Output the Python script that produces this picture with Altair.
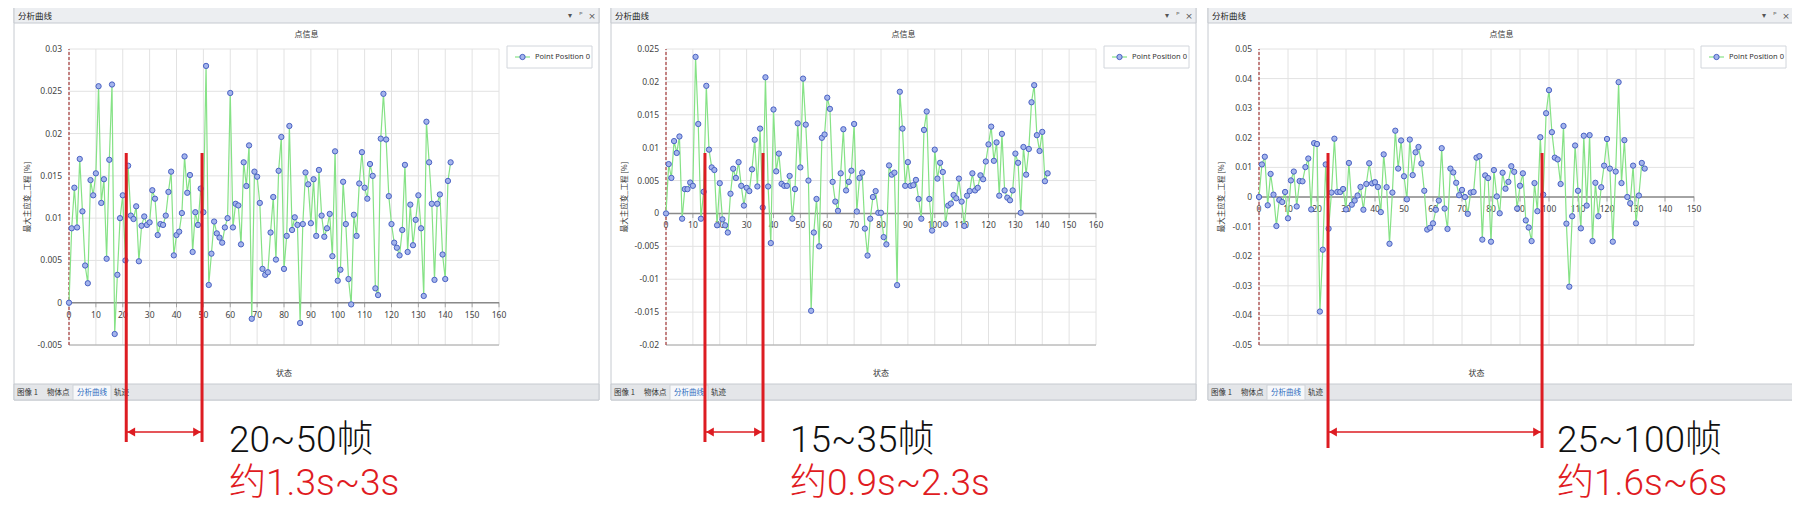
import altair as alt
import pandas as pd

# ---------------- data ----------------
values_1 = [0, 0.0088, 0.0136, 0.0089, 0.0170, 0.0108, 0.0044, 0.0023, 0.0145, 0.0127,
            0.0153, 0.0256, 0.0118, 0.0146, 0.0052, 0.0169, 0.0258, -0.0037, 0.0033, 0.0100,
            0.0127, 0.0050, 0.0162, 0.0103, 0.0099, 0.0114, 0.0049, 0.0091, 0.0102, 0.0092,
            0.0095, 0.0133, 0.0123, 0.0080, 0.0093, 0.0092, 0.0103, 0.0131, 0.0155, 0.0056,
            0.0080, 0.0084, 0.0106, 0.0173, 0.0130, 0.0151, 0.0060, 0.0107, 0.0092, 0.0135,
            0.0107, 0.0280, 0.0021, 0.0058, 0.0096, 0.0082, 0.0077, 0.0071, 0.0089, 0.0100,
            0.0248, 0.0089, 0.0117, 0.0115, 0.0069, 0.0166, 0.0138, 0.0186, -0.0019, 0.0155,
            0.0149, 0.0118, 0.0040, 0.0033, 0.0036, 0.0083, 0.0125, 0.0051, 0.0156, 0.0196,
            0.0040, 0.0079, 0.0209, 0.0086, 0.0101, 0.0092, -0.0024, 0.0093, 0.0154, 0.0140,
            0.0094, 0.0146, 0.0079, 0.0157, 0.0103, 0.0078, 0.0088, 0.0105, 0.0055, 0.0179,
            0.0026, 0.0039, 0.0143, 0.0093, 0.0028, -0.0002, 0.0104, 0.0079, 0.0141, 0.0178,
            0.0136, 0.0123, 0.0164, 0.0150, 0.0017, 0.0009, 0.0194, 0.0247, 0.0193, 0.0126,
            0.0093, 0.0071, 0.0065, 0.0056, 0.0086, 0.0163, 0.0060, 0.0116, 0.0068, 0.0098,
            0.0127, 0.0088, 0.0008, 0.0214, 0.0166, 0.0117, 0.0027, 0.0117, 0.0128, 0.0057,
            0.0028, 0.0144, 0.0166]

values_2 = [0, 0.0075, 0.0054, 0.0110, 0.0092, 0.0117, -0.0008, 0.0037, 0.0037, 0.0047,
            0.0042, 0.0238, 0.0136, -0.0008, 0.0033, 0.0194, 0.0097, 0.0070, 0.0066, -0.0018,
            0.0046, -0.0009, -0.0018, -0.0029, 0.0030, 0.0068, 0.0054, 0.0078, 0.0042, 0.0012,
            0.0039, 0.0034, 0.0067, 0.0112, 0.0041, 0.0129, 0.0009, 0.0207, 0.0041, -0.0045,
            0.0158, 0.0064, 0.0091, 0.0045, 0.0042, 0.0042, 0.0057, -0.0008, 0.0037, 0.0137,
            0.0070, 0.0205, 0.0135, 0.0050, -0.0148, -0.0029, 0.0022, -0.0050, 0.0115, 0.0120,
            0.0176, 0.0159, 0.0048, 0.0018, 0.0004, 0.0061, 0.0128, 0.0035, 0.0048, 0.0065,
            0.0136, 0.0003, 0.0054, 0.0062, -0.0023, -0.0064, -0.0008, 0.0025, 0.0034, 0.0001,
            0.0001, -0.0036, -0.0047, 0.0073, 0.0059, 0.0062, -0.0109, 0.0185, 0.0129, 0.0042,
            0.0078, 0.0042, 0.0043, 0.0051, 0.0022, -0.0008, 0.0127, 0.0155, 0.0022, -0.0026,
            0.0097, 0.0053, 0.0077, 0.0063, -0.0016, 0.0012, 0.0015, 0.0028, 0.0023, 0.0053,
            0.0018, -0.0019, 0.0027, 0.0034, 0.0061, 0.0035, 0.0039, 0.0058, 0.0052, 0.0079,
            0.0105, 0.0132, 0.0080, 0.0108, 0.0027, 0.0121, 0.0035, 0.0024, 0.0020, 0.0035,
            0.0091, 0.0077, 0.0001, 0.0101, 0.0059, 0.0098, 0.0169, 0.0195, 0.0119, 0.0095,
            0.0124, 0.0049, 0.0061]

values_3 = [0, 0.0110, 0.0136, -0.0028, 0.0078, 0.0008, -0.0098, -0.0010, -0.0017, 0.0017,
            -0.0072, 0.0056, 0.0086, -0.0032, 0.0054, 0.0053, 0.0101, 0.0130, -0.0042, 0.0182,
            0.0179, -0.0387, -0.0178, 0.0110, -0.0107, 0.0015, 0.0197, 0.0017, 0.0017, 0.0027,
            -0.0042, 0.0115, -0.0026, -0.0012, 0.0005, 0.0034, -0.0043, 0.0044, 0.0114, 0.0046,
            0.0050, 0.0034, -0.0051, 0.0144, 0.0033, -0.0158, 0.0015, 0.0224, 0.0096, 0.0191,
            0.0070, -0.0008, 0.0194, 0.0074, 0.0151, 0.0169, 0.0113, 0.0021, -0.0110, -0.0104,
            -0.0089, -0.0043, -0.0012, 0.0165, -0.0039, -0.0108, 0.0096, 0.0083, 0.0048, 0.0006,
            0.0024, 0.0000, -0.0057, 0.0015, 0.0017, 0.0133, 0.0138, -0.0144, 0.0073, 0.0064,
            -0.0151, 0.0091, 0.0002, -0.0055, 0.0082, 0.0028, 0.0051, 0.0104, 0.0085, -0.0039,
            0.0038, 0.0080, -0.0079, -0.0103, -0.0149, 0.0047, -0.0048, 0.0202, 0.0008, 0.0283,
            0.0361, 0.0219, 0.0133, 0.0127, 0.0044, 0.0240, -0.0090, -0.0303, -0.0065, 0.0174,
            0.0021, -0.0106, 0.0207, -0.0029, 0.0209, -0.0149, 0.0048, -0.0065, 0.0033, 0.0106,
            0.0196, 0.0096, -0.0151, 0.0086, 0.0388, 0.0047, 0.0192, 0.0000, -0.0021, 0.0106,
            -0.0089, 0.0005, 0.0115, 0.0096]

x_ticks_1 = [0, 10, 20, 30, 40, 50, 60, 70, 80, 90, 100, 110, 120, 130, 140, 150, 160]
x_ticks_2 = [0, 10, 20, 30, 40, 50, 60, 70, 80, 90, 100, 110, 120, 130, 140, 150, 160]
x_ticks_3 = [0, 10, 20, 30, 40, 50, 60, 70, 80, 90, 100, 110, 120, 130, 140, 150]

y_ticks_1 = [-0.005, 0, 0.005, 0.01, 0.015, 0.02, 0.025, 0.03]
y_labels_1 = ["-0.005", "0", "0.005", "0.01", "0.015", "0.02", "0.025", "0.03"]
y_ticks_2 = [-0.02, -0.015, -0.01, -0.005, 0, 0.005, 0.01, 0.015, 0.02, 0.025]
y_labels_2 = ["-0.02", "-0.015", "-0.01", "-0.005", "0", "0.005", "0.01", "0.015", "0.02", "0.025"]
y_ticks_3 = [-0.05, -0.04, -0.03, -0.02, -0.01, 0, 0.01, 0.02, 0.03, 0.04, 0.05]
y_labels_3 = ["-0.05", "-0.04", "-0.03", "-0.02", "-0.01", "0", "0.01", "0.02", "0.03", "0.04", "0.05"]

marker_frames_1 = [21.3, 49.5]
marker_frames_2 = [14.5, 36.1]
marker_frames_3 = [23.8, 97.6]

frame_text = ["20~50帧", "15~35帧", "25~100帧"]
time_text = ["约1.3s~3s", "约0.9s~2.3s", "约1.6s~6s"]

window_title = "分析曲线"
chart_title = "点信息"
x_title = "状态"
y_title = "最大主应变_工程 [%]"
series_name = "Point Position 0"
tab_names = ["图像 1", "物体点", "分析曲线", "轨迹"]

# ---------------- layout ----------------
CJK = "Noto Sans CJK SC"
LAT = "Noto Sans"
BIG = "Roboto, Noto Sans CJK SC"
OFF = 8
W, H = 1784, 495
PLOT_T, PLOT_B = 49, 345
RED = "#dd1c22"

layout = [
    dict(WL=14, WW=585, L=69, R=499, xmax=160, ymin=-0.005, ymax=0.03, tx=229, mb=442),
    dict(WL=611, WW=585, L=666, R=1096, xmax=160, ymin=-0.02, ymax=0.025, tx=790, mb=442),
    dict(WL=1208, WW=587, L=1259, R=1694, xmax=150, ymin=-0.05, ymax=0.05, tx=1557, mb=448),
]
series = [values_1, values_2, values_3]
xticks = [x_ticks_1, x_ticks_2, x_ticks_3]
yticks = [y_ticks_1, y_ticks_2, y_ticks_3]
ylabels = [y_labels_1, y_labels_2, y_labels_3]
markers = [marker_frames_1, marker_frames_2, marker_frames_3]


def px(v):
    return v - OFF


def one(**cols):
    if not cols:
        cols = {"k": 0}
    return pd.DataFrame({k: [v] for k, v in cols.items()})


def box(x1, y1, x2, y2, fill, stroke=None, sw=1.0):
    kw = {"fill": fill}
    if stroke:
        kw.update(stroke=stroke, strokeWidth=sw)
    return alt.Chart(one()).mark_rect(**kw).encode(
        x=alt.value(px(x1)), x2=alt.value(px(x2)),
        y=alt.value(px(y1)), y2=alt.value(px(y2)))


def txt(x, y, s, size, color="#333333", align="left", baseline="middle",
        font=CJK, weight=None, angle=None):
    kw = dict(fontSize=size, color=color, align=align, baseline=baseline, font=font)
    if weight is not None:
        kw["fontWeight"] = weight
    if angle is not None:
        kw["angle"] = angle
    return alt.Chart(one(t=s)).mark_text(**kw).encode(
        x=alt.value(px(x)), y=alt.value(px(y)), text="t:N")


def panel(k):
    p = layout[k]
    WL, WW, L, R = p["WL"], p["WW"], p["L"], p["R"]
    xsc = alt.Scale(domain=[0, p["xmax"]], range=[px(L), px(R)], nice=False, zero=False)
    ysc = alt.Scale(domain=[p["ymin"], p["ymax"]], range=[px(PLOT_B), px(PLOT_T)],
                    nice=False, zero=False)

    def X(f):
        return alt.X(f, scale=xsc, axis=None)

    def Y(f):
        return alt.Y(f, scale=ysc, axis=None)

    out = []
    # window frame
    out.append(box(WL, 7, WL + WW, 400, "#ffffff", "#c6cad0"))
    out.append(box(WL, 7, WL + WW, 23, "#eceef1", "#c6cad0"))
    out.append(box(WL, 384, WL + WW, 400, "#e4e6e9", "#c6cad0"))
    out.append(box(WL + 59, 385, WL + 97, 400, "#f7f8fa", "#cfd3d8"))
    out.append(txt(WL + 4, 15.5, window_title, 8.5, "#222222"))
    out.append(txt(WL + 556, 15.5, "▾", 8, "#555555", align="center", font="DejaVu Sans"))
    out.append(txt(WL + 567, 15, "ᵖ", 8, "#555555", align="center", font="DejaVu Sans"))
    out.append(txt(WL + 578, 15.5, "×", 9, "#555555", align="center", font="DejaVu Sans"))
    tab_x = [WL + 3, WL + 33, WL + 63, WL + 100]
    for i, name in enumerate(tab_names):
        out.append(txt(tab_x[i], 392.5, name, 7.5, "#2c6bc0" if i == 2 else "#333333"))
    out.append(txt(WL + WW / 2, 35, chart_title, 8, "#333333", align="center"))
    out.append(txt((L + R) / 2, 374, x_title, 8, "#333333", align="center"))
    out.append(txt(WL + 14, 197, y_title, 7.5, "#333333", align="center", angle=270))

    # grid
    gx = pd.DataFrame({"v": xticks[k], "lo": p["ymin"], "hi": p["ymax"]})
    out.append(alt.Chart(gx).mark_rule(color="#e2e2e2", strokeWidth=1).encode(
        x=X("v:Q"), y=Y("lo:Q"), y2="hi:Q"))
    gy = pd.DataFrame({"v": yticks[k], "lab": ylabels[k], "lo": 0, "hi": p["xmax"]})
    out.append(alt.Chart(gy).mark_rule(color="#e2e2e2", strokeWidth=1).encode(
        y=Y("v:Q"), x=X("lo:Q"), x2="hi:Q"))
    # bottom border
    out.append(alt.Chart(one(lo=0, hi=p["xmax"], z=p["ymin"])).mark_rule(
        color="#a8a8a8", strokeWidth=1).encode(x=X("lo:Q"), x2="hi:Q", y=Y("z:Q")))
    # x axis at zero
    out.append(alt.Chart(one(lo=0, hi=p["xmax"], z=0)).mark_rule(
        color="#8a8a8a", strokeWidth=1.5).encode(x=X("lo:Q"), x2="hi:Q", y=Y("z:Q")))
    tk = pd.DataFrame({"v": xticks[k], "lab": [str(v) for v in xticks[k]], "z": 0})
    out.append(alt.Chart(tk).mark_tick(orient="vertical", size=5, thickness=1,
                                       color="#8a8a8a", yOffset=2).encode(
        x=X("v:Q"), y=Y("z:Q")))
    out.append(alt.Chart(tk).mark_text(dy=12, fontSize=8.5, color="#444444",
                                       font=LAT, align="center").encode(
        x=X("v:Q"), y=Y("z:Q"), text="lab:N"))
    # left axis (dashed)
    out.append(alt.Chart(one(z=0, lo=p["ymin"], hi=p["ymax"])).mark_rule(
        color="#a63a3a", strokeWidth=1.2, strokeDash=[3, 2]).encode(
        x=X("z:Q"), y=Y("lo:Q"), y2="hi:Q"))
    out.append(alt.Chart(gy).mark_text(align="right", dx=-7, fontSize=8.5,
                                       color="#444444", font=LAT).encode(
        x=X("lo:Q"), y=Y("v:Q"), text="lab:N"))

    # data series
    df = pd.DataFrame({"i": list(range(len(series[k]))), "v": series[k]})
    out.append(alt.Chart(df).mark_line(color="#86e286", strokeWidth=1.2).encode(
        x=X("i:Q"), y=Y("v:Q")))
    out.append(alt.Chart(df).mark_circle(size=28, fill="#a4b4ec", stroke="#4a62c3",
                                         strokeWidth=1, opacity=1).encode(
        x=X("i:Q"), y=Y("v:Q")))

    # legend
    out.append(box(WL + 493, 46, WL + 578, 68, "#ffffff", "#d2d6dc"))
    out.append(alt.Chart(one()).mark_rule(color="#86e286", strokeWidth=1.2).encode(
        x=alt.value(px(WL + 501)), x2=alt.value(px(WL + 516)), y=alt.value(px(57))))
    out.append(alt.Chart(one()).mark_circle(size=28, fill="#a4b4ec", stroke="#4a62c3",
                                            strokeWidth=1, opacity=1).encode(
        x=alt.value(px(WL + 508.5)), y=alt.value(px(57))))
    out.append(txt(WL + 521, 57, series_name, 7.5, "#333333", font=LAT))

    # red markers and arrow
    mk = pd.DataFrame({"f": markers[k]})
    out.append(alt.Chart(mk).mark_rule(color=RED, strokeWidth=3).encode(
        x=X("f:Q"), y=alt.value(px(153)), y2=alt.value(px(p["mb"]))))
    ar = one(a=markers[k][0], b=markers[k][1])
    out.append(alt.Chart(ar).mark_rule(color=RED, strokeWidth=1.5).encode(
        x=X("a:Q"), x2="b:Q", y=alt.value(px(432))))
    out.append(alt.Chart(ar).mark_point(shape="triangle-left", filled=True, color=RED,
                                        size=80, opacity=1, xOffset=5).encode(
        x=X("a:Q"), y=alt.value(px(432))))
    out.append(alt.Chart(ar).mark_point(shape="triangle-right", filled=True, color=RED,
                                        size=80, opacity=1, xOffset=-5).encode(
        x=X("b:Q"), y=alt.value(px(432))))

    # annotation text
    out.append(txt(p["tx"], 452, frame_text[k], 37, "#111111", baseline="alphabetic",
                   font=BIG, weight=300))
    out.append(txt(p["tx"], 495, time_text[k], 37, "#e01b22", baseline="alphabetic",
                   font=BIG, weight=300))
    return out


layers = []
for k in range(3):
    layers.extend(panel(k))

chart = alt.layer(*layers).resolve_scale(
    x="independent", y="independent"
).properties(
    width=W, height=H, padding=0, background="white",
    autosize=alt.AutoSizeParams(type="none"),
).configure_view(stroke=None)

chart.save("out.html", embed_options={"renderer": "svg", "actions": False})
